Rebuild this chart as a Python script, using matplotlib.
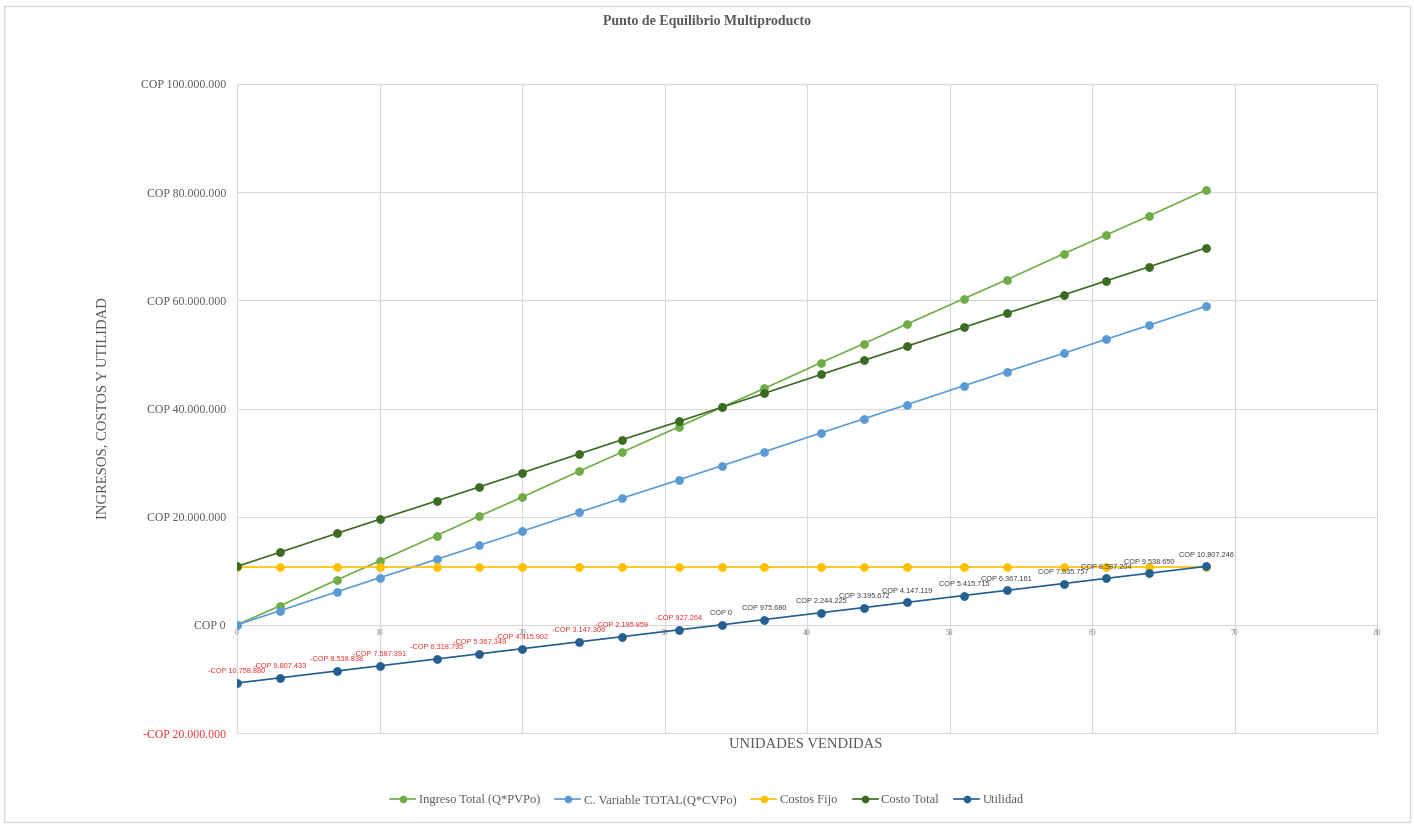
import matplotlib
matplotlib.use("Agg")
import matplotlib.pyplot as plt
from matplotlib.ticker import FuncFormatter, MultipleLocator
from matplotlib.patches import Rectangle

# ---- data ----
unidades = [0, 3, 7, 10, 14, 17, 20, 24, 27, 31, 34, 37, 41, 44, 47, 51, 54, 58, 61, 64, 68]
ingreso_total = [0, 3.5, 8.3, 11.8, 16.5, 20.1, 23.6, 28.4, 31.9, 36.6, 40.2, 43.7,
                 48.5, 52.0, 55.6, 60.3, 63.8, 68.6, 72.1, 75.6, 80.4]
cv_total = [0, 2.6, 6.1, 8.7, 12.1, 14.7, 17.3, 20.8, 23.4, 26.8, 29.4, 32.0,
            35.5, 38.1, 40.7, 44.2, 46.8, 50.2, 52.8, 55.4, 58.9]
costos_fijo = [10.758880] * 21
costo_total = [10.8, 13.4, 16.9, 19.5, 22.9, 25.5, 28.1, 31.6, 34.2, 37.6, 40.2, 42.8,
               46.3, 48.9, 51.5, 55.0, 57.6, 61.0, 63.6, 66.2, 69.7]
utilidad = [-10758880, -9807433, -8538838, -7587391, -6318795, -5367349, -4415902,
            -3147306, -2195859, -927264, 0, 975680, 2244225, 3195672, 4147119,
            5415715, 6367161, 7635757, 8587204, 9538650, 10807246]

series_names = ["Ingreso Total (Q*PVPo)", "C. Variable TOTAL(Q*CVPo)", "Costos Fijo",
                "Costo Total", "Utilidad"]
colors = ["#70AD47", "#5B9BD5", "#FFC000", "#3B6B22", "#255E91"]

M = 1e6

fig = plt.figure(figsize=(14.14, 8.24), dpi=100)
ax = fig.add_axes([237/1414, 1-733/824, (1377-237)/1414, (733-84)/824])

data = [[v*M for v in ingreso_total], [v*M for v in cv_total],
        [v*M for v in costos_fijo], [v*M for v in costo_total], utilidad]
for i, (vals, name, c) in enumerate(zip(data, series_names, colors)):
    ax.plot(unidades, vals, color=c, lw=1.2, marker="o", markersize=5.3,
            markerfacecolor=c, markeredgecolor=c, label=name, zorder=3+i)

# data labels for Utilidad
def cop(v):
    s = f"{abs(int(round(v))):,}".replace(",", ".")
    return ("-COP " if v < 0 else "COP ") + s

for x, v in zip(unidades, utilidad):
    ax.annotate(cop(v), (x, v), xytext=(0, 5.5), textcoords="offset points",
                ha="center", va="bottom", fontsize=5.3,
                family=["Liberation Sans", "DejaVu Sans"],
                color="#E8322E" if v < 0 else "#404040", zorder=10)

ax.set_xlim(0, 80)
ax.set_ylim(-20*M, 100*M)
ax.xaxis.set_major_locator(MultipleLocator(10))
ax.yaxis.set_major_locator(MultipleLocator(20*M))

def yfmt(v, pos):
    return cop(v)
ax.yaxis.set_major_formatter(FuncFormatter(yfmt))
ax.grid(True, color="#D9D9D9", lw=0.8, zorder=0)
ax.set_axisbelow(True)
for s in ax.spines.values():
    s.set_visible(False)
ax.spines["bottom"].set_position(("data", 0))
ax.tick_params(axis="both", length=0)
ax.tick_params(axis="x", labelsize=5.5, labelcolor="#808080", pad=3)
ax.tick_params(axis="y", labelsize=8.5, labelcolor="#595959", pad=8)
for lbl in ax.get_yticklabels():
    lbl.set_family("Liberation Serif")
for lbl in ax.get_xticklabels():
    lbl.set_family("Liberation Serif")
fig.canvas.draw()
for lbl in ax.get_yticklabels():
    if lbl.get_text().startswith("-"):
        lbl.set_color("#E8322E")
for gl in ax.get_xgridlines() + ax.get_ygridlines():
    gl.set_clip_on(False)

fig.text(0.5, 1-22/824, "Punto de Equilibrio Multiproducto", ha="center", va="center",
         fontsize=10, fontweight="bold", family="Liberation Serif", color="#595959")
fig.text(806/1414, 1-745/824, "UNIDADES VENDIDAS", ha="center", va="center",
         fontsize=10.5, family="Liberation Serif", color="#595959")
fig.text(103/1414, 1-408/824, "INGRESOS, COSTOS Y UTILIDAD", ha="center", va="center",
         rotation=90, fontsize=10.5, family="Liberation Serif", color="#595959")

leg = fig.legend(loc="center", bbox_to_anchor=(0.5, 1-800/824), ncol=5, frameon=False,
                 prop={"family": "Liberation Serif", "size": 9}, handlelength=2,
                 columnspacing=1.2, handletextpad=0.3, markerscale=0.85)
for t in leg.get_texts():
    t.set_color("#595959")

fig.patches.append(Rectangle((0.003, 0.003), 0.994, 0.99, transform=fig.transFigure,
                             fill=False, edgecolor="#D9D9D9", lw=1))

fig.savefig("out.png", dpi=100, facecolor="white")
